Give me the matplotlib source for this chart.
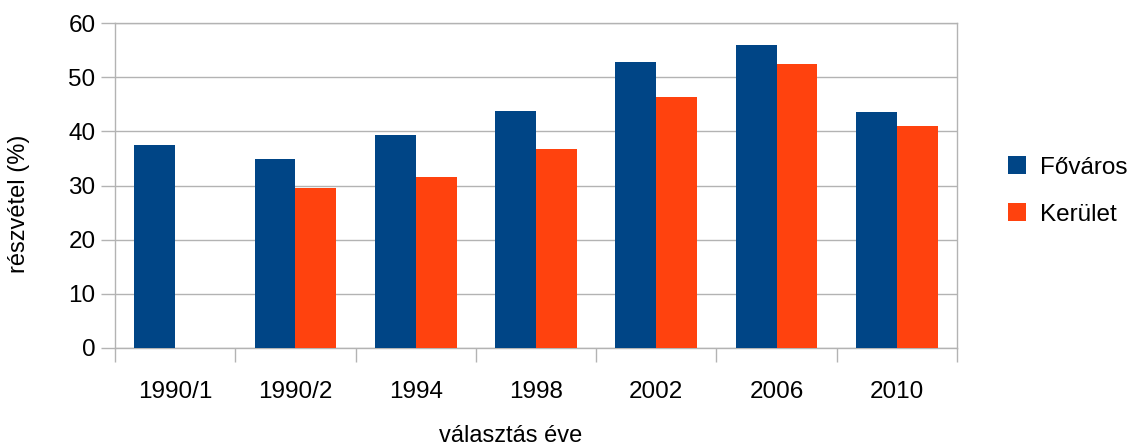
import matplotlib
matplotlib.use("Agg")
import matplotlib.pyplot as plt
import numpy as np

categories = ["1990/1", "1990/2", "1994", "1998", "2002", "2006", "2010"]
fovaros = [37.5, 34.9, 39.3, 43.7, 52.8, 55.9, 43.5]
kerulet = [np.nan, 29.5, 31.5, 36.7, 46.3, 52.4, 41.0]
series_names = ["Főváros", "Kerület"]
colors = ["#004586", "#ff420e"]

plt.rcParams['font.family'] = ['Liberation Sans', 'DejaVu Sans']

fig = plt.figure(figsize=(11.27, 4.45), dpi=100)
ax = fig.add_axes([115/1127, 1 - 348/445, (957-115)/1127, (348-23)/445])

x = np.arange(len(categories))
w = 0.34
b1 = ax.bar(x - w/2, fovaros, w, color=colors[0], label=series_names[0], zorder=3)
b2 = ax.bar(x + w/2, kerulet, w, color=colors[1], label=series_names[1], zorder=3)

ax.set_xlim(-0.5, len(categories) - 0.5)
ax.set_ylim(0, 60)
ax.set_yticks(np.arange(0, 61, 10))
ax.set_xticks(x)
ax.set_xticklabels(categories, fontsize=17.5)
ax.set_xticks(np.arange(-0.5, len(categories), 1), minor=True)
ax.tick_params(axis='x', which='major', length=0, pad=24)
ax.tick_params(axis='x', which='minor', length=10, color='#b3b3b3', width=1)
ax.tick_params(axis='y', length=10, color='#b3b3b3', width=1, labelsize=17.5, pad=4)
ax.yaxis.grid(True, color='#b3b3b3', linewidth=1, zorder=0)
ax.set_axisbelow(True)
for s in ax.spines.values():
    s.set_color('#b3b3b3')
    s.set_linewidth(1)

fig.text(19/1127, 1 - 204/445, "részvétel (%)", fontsize=17, rotation=90,
         ha='center', va='center')
fig.text(511/1127, 1 - 436/445, "választás éve", fontsize=17,
         ha='center', va='center')

leg = fig.legend(handles=[b1, b2], labels=series_names, loc='center left',
                 bbox_to_anchor=(1008/1127, 1 - 191/445), frameon=False,
                 fontsize=17.5, handlelength=0.75, handleheight=0.75,
                 handletextpad=0.55, labelspacing=1.0, borderpad=0, borderaxespad=0)

fig.savefig("out.png", dpi=100)
